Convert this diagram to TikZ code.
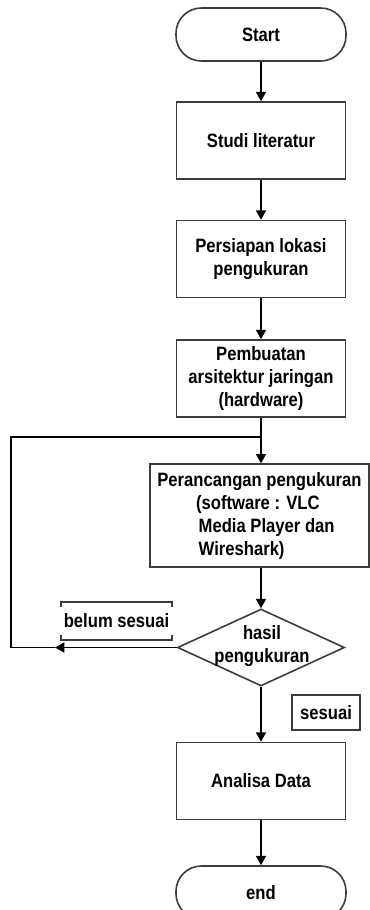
\documentclass[tikz,border=0pt]{standalone}
\usepackage{fontspec}
\setmainfont{Liberation Sans}[FakeStretch=0.86]
\usetikzlibrary{arrows.meta,positioning,shapes.geometric}
\definecolor{fcline}{RGB}{60,60,60}
\begin{document}
\begin{tikzpicture}[x=0.75pt, y=-0.75pt,
  font=\fontsize{14.5}{17.25}\selectfont\bfseries,
  box/.style={draw=fcline, line width=1.2pt, minimum width=126.5pt,
              minimum height=57.75pt, align=center, inner sep=2pt},
  term/.style={box, rounded corners=19pt, minimum height=39.75pt,
               minimum width=127.5pt},
  dec/.style={draw=fcline, line width=1.2pt, diamond, minimum width=125.25pt,
              minimum height=57.75pt, inner sep=0pt},
  note/.style={inner sep=2pt},
  flow/.style={-{Triangle[length=7pt,width=7.5pt]}, line width=1.2pt},
  link/.style={line width=1.2pt}]
\useasboundingbox (0,0) rectangle (370,910);
\node[term] (start)   at (261,34.5)  {Start};
\node[box]  (studi)   at (261,140.5) {Studi literatur};
\node[box]  (lokasi)  at (261,259)   {Persiapan lokasi\\pengukuran};
\node[box]  (hw)      at (261,378.5) {Pembuatan\\arsitektur jaringan\\(hardware)};
\node[box, minimum width=164pt, minimum height=77pt, align=left] (design) at (259.5,515.5)
  {Perancangan pengukuran\\
   \hspace*{29pt}(software : VLC\\
   \hspace*{31pt}Media Player dan\\
   \hspace*{31pt}Wireshark)};
\node[dec] (hasil) at (261,647.5) {};
\node[align=center] (hasiltxt) at (262,646) {hasil\\pengukuran};
\node[box]  (analisa) at (261,781)   {Analisa Data};
\node[term] (end)     at (261,892.5) {end};
\node[note, minimum width=60.75pt, minimum height=28.5pt] (belum) at (116.5,621) {belum sesuai};
\node[draw=fcline, line width=1.6pt, minimum width=51pt, minimum height=26pt] (ok) at (326,712.5) {sesuai};
\coordinate (join) at (261,437);
\coordinate (below) at (261,567.5);
\coordinate (loop) at (11,647.5);
\coordinate (tip)  at (55,647.5);
% main flow
\draw[flow] (start) -- (studi);
\draw[flow] (studi) -- (lokasi);
\draw[flow] (lokasi) -- (hw);
\draw[flow] (hw.south) -- (hw.south |- design.north);
\draw[flow] (below) -- (hasil.north);
\draw[flow] (hasil) -- (analisa);
\draw[flow] (analisa) -- (end);
% loop back
\draw[flow] (hasil.west) -- (tip);
\draw[link] (tip) -- (loop) |- (join);
% bracket round the label
\draw[fcline, line width=1.2pt] ([yshift=-4pt]belum.north west) -- (belum.north west)
  -- (belum.north east) -- ([yshift=-4pt]belum.north east);
\draw[fcline, line width=1.2pt] ([yshift=4pt]belum.south west) -- (belum.south west)
  -- (belum.south east) -- ([yshift=4pt]belum.south east);
\end{tikzpicture}
\end{document}
